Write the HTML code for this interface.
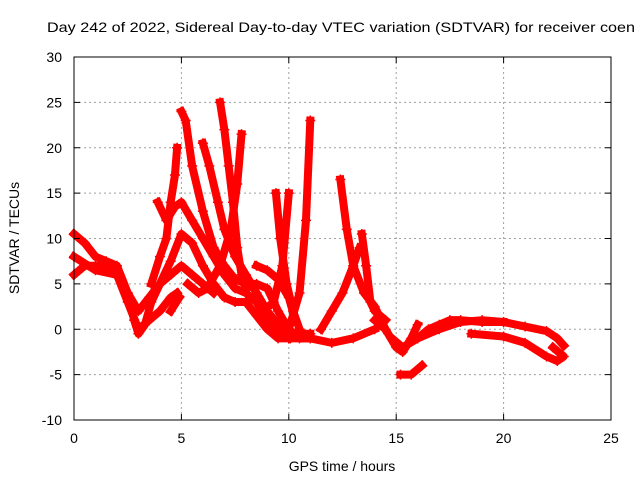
<!DOCTYPE html>
<html><head><meta charset="utf-8"><style>
html,body{margin:0;padding:0;background:#fff}
svg{display:block;font-family:"Liberation Sans",Arial,sans-serif}
</style></head><body>
<svg id="chart" width="640" height="480" viewBox="0 0 640 480">
<text x="47" y="32" font-size="14" textLength="588" lengthAdjust="spacingAndGlyphs">Day 242 of 2022, Sidereal Day-to-day VTEC variation (SDTVAR) for receiver coen</text>
<g id="grid"></g>
<g id="series"></g>
<rect x="74" y="57" width="537" height="363" fill="none" stroke="#000" stroke-width="1"/>
<g id="axes"></g>
<text x="342" y="471" font-size="14" text-anchor="middle">GPS time / hours</text>
<text transform="translate(19,238) rotate(-90)" font-size="14" text-anchor="middle">SDTVAR / TECUs</text>
</svg>
<script>
const xTicks=[0,5,10,15,20,25];
const yTicks=[-10,-5,0,5,10,15,20,25,30];
const track1=[[0,10.5],[0.5,9.5],[1,8],[1.5,7.5],[2,7],[2.5,4],[2.8,1],[3,-0.5],[3.3,0.5],[3.6,3],[4,5],[4.5,7.5],[5,10.5],[5.5,9.5],[6,7],[6.5,5],[7,3.5],[7.5,3],[8,3],[8.5,1.5],[9,0],[9.5,-1],[10,-1],[11,-1],[12,-1.5],[13,-1],[14,0]];
const track2=[[0,6],[0.5,7],[1,7],[1.5,7],[2,6],[2.5,3],[3,0],[3.5,1],[4,2],[4.5,3.5],[4.8,4]];
const track3=[[0,8],[1,6.5],[2,6],[2.5,4],[3,2],[3.5,3.5],[4,5],[4.5,6],[5,7],[5.5,6],[6,5],[6.5,4]];
const track4=[[3.9,14],[4.3,12],[4.7,13.5],[5,14],[5.5,12],[6,10],[6.5,8],[7,6],[7.5,4.5],[8,4],[8.5,3],[9,1],[9.5,-0.5],[10,-1]];
const track5=[[3.6,5],[4,8],[4.3,10],[4.5,14],[4.7,17],[4.8,20]];
const track6=[[5,24],[5.2,23],[5.5,18],[6,13],[6.5,9],[7,7],[7.5,5.5],[8,5],[8.5,5],[9,4.5],[9.5,2],[10,0],[10.5,-1],[11,-1]];
const track7=[[6,20.5],[6.3,18],[6.7,14],[7,11],[7.5,8],[8,6],[8.5,4],[9,2],[9.5,0.5],[10,-0.5],[11,-0.5]];
const track8=[[6.8,25],[7,22],[7.2,18],[7.4,14],[7.6,9],[7.8,6],[8,4.5]];
const track9=[[5.3,5],[5.8,4],[6.2,4.5],[6.8,7],[7.3,11],[7.6,16],[7.8,21.5]];
const track10=[[8.5,7],[9,6.5],[9.5,5.5],[10,3.5],[10.3,1]];
const track11=[[9.4,15],[9.6,10],[9.9,5],[10.2,2],[10.5,0]];
const track12=[[8.8,2],[9.3,3],[9.7,7],[10,15]];
const track13=[[9.5,-0.5],[10,0],[10.5,4],[10.8,12],[11,23]];
const track14=[[12.4,16.5],[12.7,11],[13,7],[13.5,4],[14,2.5],[14.5,0]];
const track15=[[11.5,0],[12,2],[12.5,4],[13,7],[13.3,9]];
const track16=[[13.4,10.5],[13.6,7],[13.8,3],[14,2],[14.5,1]];
const track17=[[14,1],[14.5,0],[15,-2],[15.3,-2.5],[15.7,-1],[16,0.5]];
const track18=[[14.8,-1],[15.3,-2],[16,-1],[16.5,0],[17,0.5],[17.5,1],[18,1],[19,0.8],[20,0.8]];
const track19=[[16,-1],[17,0],[18,0.8],[19,1],[20,0.8],[21,0.3],[22,-0.2],[22.5,-1],[22.8,-1.8]];
const track20=[[18.5,-0.5],[20,-0.8],[21,-1.5],[22,-3],[22.5,-3.5],[22.8,-3],[22.3,-2]];
const track21=[[15.2,-5],[15.7,-5],[16.2,-4]];
const track22=[[4.5,2],[4.9,3.5]];
const tracks=[track1,track2,track3,track4,track5,track6,track7,track8,track9,track10,track11,track12,track13,track14,track15,track16,track17,track18,track19,track20,track21,track22];

const NS='http://www.w3.org/2000/svg';
const X0=74,X1=611,Y0=420,Y1=57;
function sx(t){return X0+(t-0)/(25-0)*(X1-X0);}
function sy(v){return Y0-(v-(-10))/(30-(-10))*(Y0-Y1);}
const grid=document.getElementById('grid'),axes=document.getElementById('axes'),ser=document.getElementById('series');
function mk(tag,attrs,parent){const e=document.createElementNS(NS,tag);for(const k in attrs)e.setAttribute(k,attrs[k]);parent.appendChild(e);return e;}
xTicks.forEach(t=>{
 const x=sx(t);
 if(t>0&&t<25){const g=mk('line',{x1:x,x2:x,y1:Y1,y2:Y0,stroke:'#a0a0a0','stroke-dasharray':'2,3'},grid);
 
 }
 mk('line',{x1:x,x2:x,y1:Y0,y2:Y0-6,stroke:'#000'},axes);
 mk('line',{x1:x,x2:x,y1:Y1,y2:Y1+6,stroke:'#000'},axes);
 const l=mk('text',{x:x,y:443,'font-size':14,'text-anchor':'middle'},axes);l.textContent=t;
 
 
});
yTicks.forEach(v=>{
 const y=sy(v);
 if(v>-10&&v<30){const g=mk('line',{x1:X0,x2:X1,y1:y,y2:y,stroke:'#a0a0a0','stroke-dasharray':'2,3'},grid);
 
 }
 mk('line',{x1:X0,x2:X0+6,y1:y,y2:y,stroke:'#000'},axes);
 mk('line',{x1:X1,x2:X1-6,y1:y,y2:y,stroke:'#000'},axes);
 const l=mk('text',{x:62,y:y+5,'font-size':14,'text-anchor':'end'},axes);l.textContent=v;
 
 
});
tracks.forEach((tr,i)=>{
 const p=mk('polyline',{points:tr.map(d=>sx(d[0])+','+sy(d[1])).join(' '),fill:'none',stroke:'#f00','stroke-width':8,'stroke-linejoin':'round','stroke-linecap':'square'},ser);
 
 
 tr.forEach(d=>{
  const m=mk('path',{d:'M'+(sx(d[0])-5)+','+sy(d[1])+'h10M'+sx(d[0])+','+(sy(d[1])-5)+'v10',stroke:'#f00','stroke-width':1.5},ser);
  
  
 });
});
</script>
</body></html>
